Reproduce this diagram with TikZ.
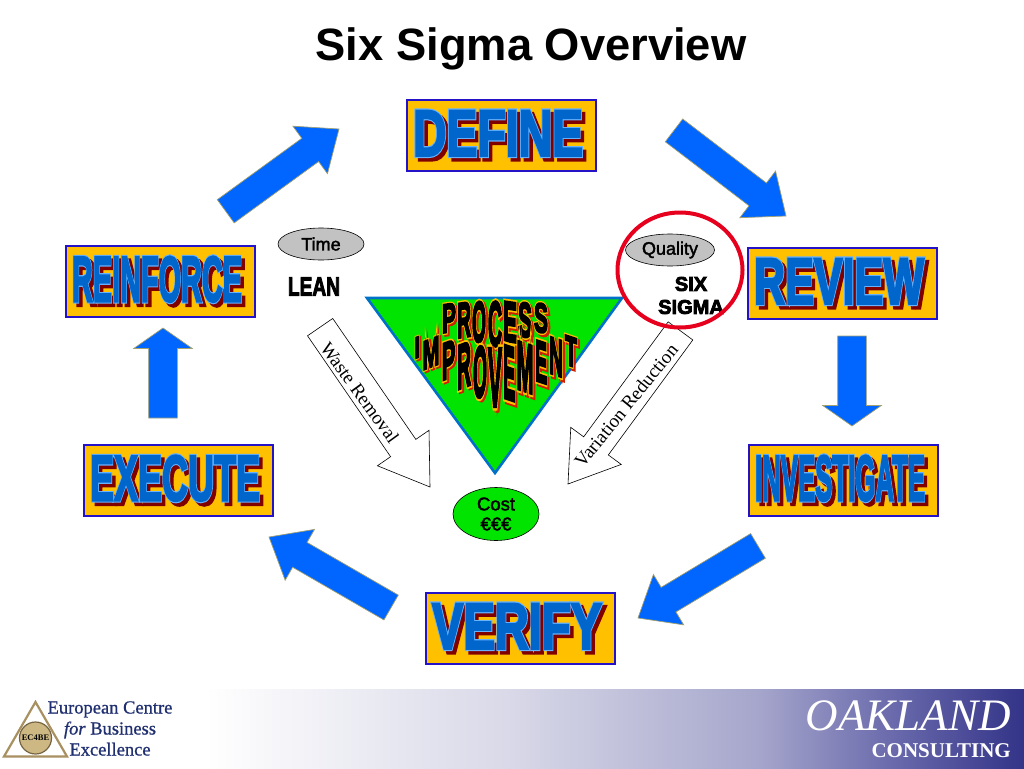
\documentclass[tikz,border=0pt]{standalone}
\usepackage{fontspec}
\usepackage{graphicx}
\usetikzlibrary{positioning,shapes.arrows,shapes.geometric}
\setmainfont{Liberation Serif}
\newfontfamily\labelfont{Liberation Sans}[FakeBold=2]
\newfontfamily\titlefont{Liberation Sans}[UprightFont=* Bold]
\newfontfamily\artface{Liberation Sans}[UprightFont=* Bold,FakeBold=3.5]
\newfontfamily\artedge{Liberation Sans}[UprightFont=* Bold,FakeBold=7]
\newfontfamily\bentface{Liberation Sans}[UprightFont=* Bold,FakeBold=5]
\newfontfamily\bentedge{Liberation Sans}[UprightFont=* Bold,FakeBold=11]
\newfontfamily\heavyfont{Liberation Sans}[UprightFont=* Bold,FakeBold=4]
\newfontfamily\logofont{Liberation Serif}[FakeBold=0.8]

\definecolor{boxgold}{HTML}{FFC000}
\definecolor{boxline}{HTML}{2412C8}
\definecolor{artblue}{HTML}{0066CC}
\definecolor{artlight}{HTML}{66B2FF}
\definecolor{artshadow}{HTML}{800000}
\definecolor{bentred}{HTML}{D02000}
\definecolor{arrowblue}{HTML}{0066FF}
\definecolor{arrowline}{HTML}{A0A070}
\definecolor{trigreen}{HTML}{00E400}
\definecolor{triline}{HTML}{0070C8}
\definecolor{ringred}{HTML}{E6001E}
\definecolor{logonavy}{HTML}{1F2F6F}
\definecolor{logotan}{HTML}{A89060}
\definecolor{cointan}{HTML}{CDB884}
\definecolor{bandA}{HTML}{D8D8E8}
\definecolor{bandB}{HTML}{A6A6CC}
\definecolor{bandC}{HTML}{6666AA}
\definecolor{bandD}{HTML}{333388}

\pgfdeclarehorizontalshading{bandshade}{100bp}{
  color(0bp)=(white); color(35bp)=(white); color(50bp)=(bandA);
  color(62bp)=(bandB); color(69bp)=(bandC); color(75bp)=(bandD); color(100bp)=(bandD)}

% one layer of resized text, moved by dx,dy
\newcommand{\artlayer}[7]{\makebox[0pt][l]{\hspace{#1pt}\raisebox{#2pt}{\color{#3}\resizebox{#5pt}{#6pt}{#7#4}}}}
% box title: shadow, light edge, then the face
\newcommand{\boxtitle}[1]{\makebox[168pt][l]{\hspace{-4pt}%
  \artlayer{3.5}{-3.5}{artshadow}{#1}{170}{45}{\artedge}%
  \artlayer{0}{0}{artlight}{#1}{170}{45}{\artedge}%
  \artlayer{0}{0}{artblue}{#1}{170}{45}{\artface}}}
% one letter of the bent text in the triangle
\newcommand{\bentletter}[3]{\makebox[#2pt][l]{\rule{0pt}{#3pt}%
  \artlayer{2}{-2}{bentred}{#1}{#2}{#3}{\bentedge}%
  \artlayer{0}{0}{boxgold}{#1}{#2}{#3}{\bentedge}%
  \artlayer{0}{0}{black}{#1}{#2}{#3}{\bentface}}}

\tikzset{
  titlebox/.style={draw=boxline,line width=2pt,fill=boxgold,minimum width=189pt,minimum height=71pt,inner sep=0pt},
  bluearrow/.style={single arrow,draw=arrowline,line width=0.7pt,fill=arrowblue,inner xsep=0pt,inner ysep=14pt,outer sep=0pt,
    anchor=tip,single arrow head extend=15pt},
  whitearrow/.style={single arrow,draw=black,line width=0.6pt,fill=white,inner xsep=0pt,inner ysep=15pt,outer sep=0pt,
    anchor=tip,single arrow head extend=16pt,single arrow tip angle=67},
  oval/.style={ellipse,draw=black,line width=0.6pt,inner sep=0pt,minimum width=86pt,minimum height=32pt,
    font=\labelfont\fontsize{18}{21}\selectfont,align=center},
  heavy/.style={inner sep=0pt,align=center,font=\heavyfont\fontsize{20}{23}\selectfont},
  slanted/.style={inner sep=0pt,font=\fontsize{19}{21}\selectfont}
}

\begin{document}
\begin{tikzpicture}[x=1pt,y=-1pt]
  \useasboundingbox (0,0) rectangle (1024,768);
  \shade[shading=bandshade] (0,689) rectangle (1024,768);

  \node[inner sep=0pt,font=\titlefont\fontsize{45.3}{48}\selectfont] (title) at (531,49) {Six Sigma Overview};

  % the ring of steps
  \node[titlebox] (define) at (501,135) {\boxtitle{DEFINE}};
  \node[titlebox] (review) at (842,283) {\boxtitle{REVIEW}};
  \node[titlebox] (investigate) at (843,480) {\boxtitle{INVESTIGATE}};
  \node[titlebox] (verify) at (520,628) {\boxtitle{VERIFY}};
  \node[titlebox] (execute) at (178,480) {\boxtitle{EXECUTE}};
  \node[titlebox] (reinforce) at (160,281) {\boxtitle{REINFORCE}};

  \node[bluearrow,minimum height=141pt,single arrow tip angle=79,rotate=-37.4] (definearrow) at (786,216) {};
  \node[bluearrow,minimum height=90pt,single arrow tip angle=110,rotate=-90] (reviewarrow) at (852,426) {};
  \node[bluearrow,minimum height=140pt,single arrow tip angle=79,rotate=211] (investigatearrow) at (638,618) {};
  \node[bluearrow,minimum height=141pt,single arrow tip angle=79,rotate=150] (verifyarrow) at (269,537) {};
  \node[bluearrow,minimum height=90pt,single arrow tip angle=110,rotate=90] (executearrow) at (163,328) {};
  \node[bluearrow,minimum height=140pt,single arrow tip angle=79,rotate=36] (reinforcearrow) at (339,129) {};

  % triangle and bent text
  \coordinate (triL) at (367,298);
  \coordinate (triR) at (622,298);
  \coordinate (triB) at (495,473);
  \draw[draw=triline,line width=2.6pt,fill=trigreen,line join=miter] (triL) -- (triR) -- (triB) -- cycle;

  \foreach \letter/\cx/\cy/\cw/\ch/\sl [count=\n] in {
    P/449/319/14/28/0.15, R/464/321/14/34/0.15, O/479/323/14/40/0.15, C/495/325/14/44/0,
    E/510/323/14/39/-0.15, S/525/321/14/34/-0.15, S/541/319/14/29/-0.15}
    \node[inner sep=0pt,yslant=\sl,transform shape] (process\n) at (\cx,\cy) {\bentletter{\letter}{\cw}{\ch}};
  \foreach \letter/\cx/\cy/\cw/\ch/\sl [count=\n] in {
    I/417/348.5/5/21/0.38, M/431/354/17/28/0.38, P/448.5/361/13.5/36/0.38, R/464/366.5/14/43/0.38,
    O/480/373/14/50/0.38, V/495/378.5/14/57/0, E/509/374/12/52/-0.34, M/525/368.5/17/47/-0.34,
    E/541/363/12/40/-0.34, N/556/358/14/36/-0.34, T/571/352.5/12/29/-0.34}
    \node[inner sep=0pt,yslant=\sl,transform shape] (improve\n) at (\cx,\cy) {\bentletter{\letter}{\cw}{\ch}};

  % the white arrows
  \node[whitearrow,minimum height=194pt,rotate=-55.5] (wastearrow) at (430,487) {};
  \node[whitearrow,minimum height=190pt,rotate=233.7] (variationarrow) at (568,484) {};
  \node[slanted,rotate=-54] (waste) at (360,392.5) {Waste Removal};
  \node[slanted,rotate=51] (variation) at (626,405.5) {Variation Reduction};

  % ovals and side labels
  \node[oval,fill=black!24] (time) at (321,244) {Time};
  \node[oval,fill=black!24,minimum width=89pt] (quality) at (670,250) {Quality};
  \node[oval,fill=trigreen,minimum height=53pt,font=\labelfont\fontsize{18.5}{20}\selectfont] (cost) at (496,514) {Cost\\€€€};
  \node[heavy,below=17pt of time,xshift=-7pt] (lean) {\resizebox{52pt}{18pt}{LEAN}};
  \node[heavy] (sixsigma) at (691,295.5) {SIX\\SIGMA};
  \node[ellipse,draw=ringred,line width=4pt,minimum width=125pt,minimum height=115pt,inner sep=0pt] (ring) at (680,270) {};

  % footer
  \draw[draw=logotan,line width=2.2pt,line join=miter] (35.5,702) coordinate (logoA) -- (4,756.5) coordinate (logoB) -- (67,756.5) coordinate (logoC) -- cycle;
  \node[circle,draw=logotan!70!black,line width=1.2pt,fill=cointan,minimum size=32pt,inner sep=0pt,
    font=\bfseries\fontsize{8.5}{9}\selectfont] (coin) at (35.5,738) {EC4BE};
  \node[inner sep=0pt,text=logonavy,font=\logofont\fontsize{18.5}{21}\selectfont,align=center] (ecbe) at (110,728.5) {European Centre\\\textit{for} Business\\Excellence};
  \node[inner sep=0pt,text=white,anchor=base east,font=\fontsize{45}{47}\selectfont\itshape] (oakland) at (1011,730) {OAKLAND};
  \node[inner sep=0pt,text=white,anchor=base east,font=\fontsize{21}{23}\selectfont\bfseries] (consulting) at (1011,757) {CONSULTING};
\end{tikzpicture}
\end{document}
